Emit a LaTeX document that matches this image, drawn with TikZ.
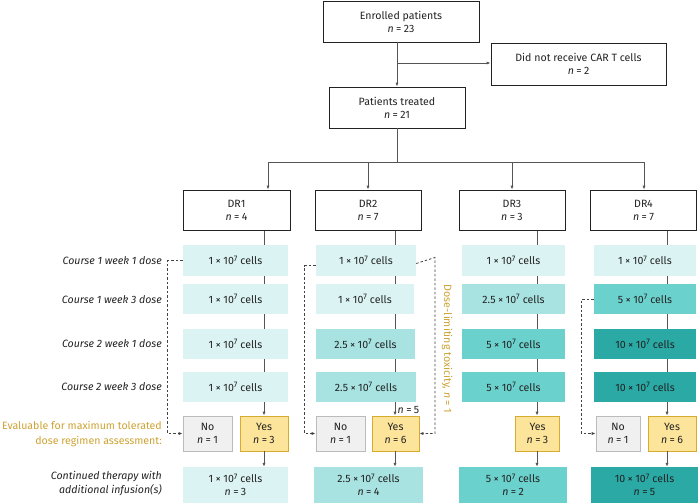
\documentclass[tikz,border=0pt]{standalone}
\usepackage{fontspec}
\setmainfont{Fira Sans}
\usetikzlibrary{arrows.meta,backgrounds}
\definecolor{cA}{HTML}{DCF3F4}
\definecolor{cB}{HTML}{A8E2E1}
\definecolor{cC}{HTML}{6BD1CD}
\definecolor{cD}{HTML}{2AA9A5}
\definecolor{yesF}{HTML}{FDE49B}
\definecolor{yesD}{HTML}{D7AB2D}
\definecolor{noF}{HTML}{F0F0F0}
\definecolor{noD}{HTML}{BBBBBB}
\definecolor{gold}{HTML}{CDA232}
\definecolor{ink}{HTML}{222222}
\definecolor{lin}{HTML}{555555}
\definecolor{dlin}{HTML}{444444}
\newcommand\gapx{\hspace{2.4pt}}
\newcommand\cellsx[1]{#1\gapx×\gapx10{\fontsize{8}{8}\selectfont\raisebox{3.6pt}{7}}\hspace{3pt}cells}
\newcommand\nn[1]{\textit{n}\gapx=\gapx#1}
\tikzset{
  box/.style={draw=ink, line width=0.8pt, align=center, inner sep=0pt, text=ink},
  cellbox/.style={inner sep=0pt, align=center, text=ink},
  yesbox/.style={draw=yesD, fill=yesF, line width=0.8pt, inner sep=0pt, align=center, text=ink},
  nobox/.style={draw=noD, fill=noF, line width=0.8pt, inner sep=0pt, align=center, text=ink},
  conn/.style={draw=lin, line width=0.8pt},
  arr/.style={conn, -{Latex[length=4pt,width=3.2pt]}},
  dsh/.style={draw=dlin, line width=0.8pt, dash pattern=on 2.5pt off 2pt},
  darr/.style={dsh, -{Latex[length=4pt,width=3.2pt]}},
  lab/.style={font=\fontsize{10.6}{13}\selectfont\itshape, text=ink, anchor=east, align=right, inner sep=0pt}
}
\begin{document}
\begin{tikzpicture}[x=1pt,y=-1pt, font=\fontsize{10.6}{13}\selectfont]
\useasboundingbox (0,0) rectangle (698,503);
% top
\node[box, minimum width=156, minimum height=41] (enr) at (401,21.5) {Enrolled patients\\\nn{23}};
\node[box, minimum width=175, minimum height=42] (dnr) at (578.5,64) {Did not receive CAR T cells\\\nn{2}};
\node[box, minimum width=136, minimum height=41] (pt) at (397,107.5) {Patients treated\\\nn{21}};
\node[box, minimum width=107, minimum height=40] (dr1) at (236.5,210) {DR1\\\nn{4}};
\node[box, minimum width=106, minimum height=40] (dr2) at (368,210) {DR2\\\nn{7}};
\node[box, minimum width=106, minimum height=40] (dr3) at (512,210) {DR3\\\nn{3}};
\node[box, minimum width=106, minimum height=40] (dr4) at (643.5,210) {DR4\\\nn{7}};
\coordinate (branch) at (397,63);
\coordinate (bar) at (397,162);
\coordinate (b1) at (268,162);
\coordinate (b4) at (644,162);
\coordinate (X1) at (264,0);
\coordinate (X2) at (395,0);
\coordinate (X3) at (537,0);
\coordinate (X4) at (667,0);
% cell rows
% DR1
\node[cellbox, fill=cA, minimum width=105, minimum height=31] (r11) at (235.5,260.5) {\cellsx{1}};
\node[cellbox, fill=cA, minimum width=105, minimum height=30] (r12) at (235.5,299) {\cellsx{1}};
\node[cellbox, fill=cA, minimum width=105, minimum height=30] (r13) at (235.5,344) {\cellsx{1}};
\node[cellbox, fill=cA, minimum width=105, minimum height=30] (r14) at (235.5,387) {\cellsx{1}};
\node[nobox, minimum width=49, minimum height=35] (no1) at (207.5,433.5) {No\\\nn{1}};
\node[yesbox, minimum width=48, minimum height=35] (yes1) at (264,433.5) {Yes\\\nn{3}};
\node[cellbox, fill=cA, minimum width=105, minimum height=36] (c1) at (235.5,485) {\cellsx{1}\\\nn{3}};
% DR2
\node[cellbox, fill=cA, minimum width=100, minimum height=31] (r21) at (366,260.5) {\cellsx{1}};
\node[cellbox, fill=cA, minimum width=98, minimum height=30] (r22) at (365,299) {\cellsx{1}};
\node[cellbox, fill=cB, minimum width=99, minimum height=30] (r23) at (365.5,344) {\cellsx{2.5}};
\node[cellbox, fill=cB, minimum width=100, minimum height=30] (r24) at (366,387) {\cellsx{2.5}};
\node[nobox, minimum width=49, minimum height=35] (no2) at (340.5,433.5) {No\\\nn{1}};
\node[yesbox, minimum width=47, minimum height=35] (yes2) at (395.5,433.5) {Yes\\\nn{6}};
\node[cellbox, fill=cB, minimum width=109, minimum height=36] (c2) at (368.5,485) {\cellsx{2.5}\\\nn{4}};
% DR3
\node[cellbox, fill=cA, minimum width=103, minimum height=31] (r31) at (513.5,260.5) {\cellsx{1}};
\node[cellbox, fill=cB, minimum width=103, minimum height=30] (r32) at (513.5,299) {\cellsx{2.5}};
\node[cellbox, fill=cC, minimum width=103, minimum height=30] (r33) at (513.5,344) {\cellsx{5}};
\node[cellbox, fill=cC, minimum width=103, minimum height=30] (r34) at (513.5,387) {\cellsx{5}};
\node[yesbox, minimum width=44, minimum height=35] (yes3) at (537.5,433.5) {Yes\\\nn{3}};
\node[cellbox, fill=cC, minimum width=108, minimum height=36] (c3) at (513,485) {\cellsx{5}\\\nn{2}};
% DR4
\node[cellbox, fill=cA, minimum width=102, minimum height=31] (r41) at (645,260.5) {\cellsx{1}};
\node[cellbox, fill=cC, minimum width=102, minimum height=30] (r42) at (645,299) {\cellsx{5}};
\node[cellbox, fill=cD, minimum width=102, minimum height=30] (r43) at (645,344) {\cellsx{10}};
\node[cellbox, fill=cD, minimum width=102, minimum height=30] (r44) at (645,387) {\cellsx{10}};
\node[nobox, minimum width=44, minimum height=35] (no4) at (618,433.5) {No\\\nn{1}};
\node[yesbox, minimum width=48, minimum height=35] (yes4) at (672,433.5) {Yes\\\nn{6}};
\node[cellbox, fill=cD, minimum width=107, minimum height=36] (c4) at (644.5,485) {\cellsx{10}\\\nn{5}};
% left labels
\node[lab] (l1) at (162,261) {Course 1 week 1 dose};
\node[lab] (l2) at (162,300) {Course 1 week 3 dose};
\node[lab] (l3) at (162,344) {Course 2 week 1 dose};
\node[lab] (l4) at (162,387) {Course 2 week 3 dose};
\node[lab, font=\fontsize{10.6}{15}\selectfont, text=gold] (l5) at (162,433.5) {Evaluable for maximum tolerated\\dose regimen assessment:};
\node[lab, font=\fontsize{10.6}{14}\selectfont\itshape] (l6) at (162,483) {Continued therapy with\\additional infusion(s)};
% DLT label
\node[rotate=-90, text=gold, inner sep=0pt] (dlt) at (447,349) {Dose-limiting toxicity, \textit{n}\gapx=\gapx1};
\node[anchor=west, inner sep=0pt, text=ink] (n5) at (397.5,410.5) {\nn{5}};
% connectors top
\draw[conn] (enr.south -| pt.north) -- (branch);
\draw[arr] (branch) -- (pt.north);
\draw[arr] (branch) -- (branch -| dnr.west);
\draw[conn] (pt.south) -- (bar);
\draw[conn] (b1) -- (b4);
\draw[arr] (b1) -- (b1 |- dr1.north);
\draw[arr] (bar -| dr2.north) -- (dr2.north);
\draw[arr] (bar -| dr3.north) -- (dr3.north);
\draw[arr] (b4) -- (b4 |- dr4.north);
% column connectors (behind cells)
\begin{scope}[on background layer]
\draw[conn] (dr1.south -| X1) -- (r14.south -| X1);
\draw[conn] (dr2.south -| X2) -- (r24.south -| X2);
\draw[conn] (dr3.south -| X3) -- (r34.south -| X3);
\draw[conn] (dr4.south -| X4) -- (r44.south -| X4);
\end{scope}
\draw[arr] (r14.south -| X1) -- (yes1.north -| X1);
\draw[arr] (yes1.south -| X1) -- (c1.north -| X1);
\draw[arr] (r24.south -| X2) -- (yes2.north -| X2);
\draw[arr] (yes2.south -| X2) -- (c2.north -| X2);
\draw[arr] (r34.south -| X3) -- (yes3.north -| X3);
\draw[arr] (yes3.south -| X3) -- (c3.north -| X3);
\draw[arr] (r44.south -| X4) -- (yes4.north -| X4);
\draw[arr] (yes4.south -| X4) -- (c4.north -| X4);
% dashed
\draw[darr] (r11.west) -- ++(-15,0) |- (no1.west);
\draw[darr] ([yshift=-5pt]r21.west) -- ++(-11,0) |- (no2.west);
\draw[darr] ([yshift=-3pt]r21.east) -- (435,257.5) |- (yes2.east);
\draw[darr] (r42.west) -- ++(-12,0) |- (no4.west);
\end{tikzpicture}
\end{document}
